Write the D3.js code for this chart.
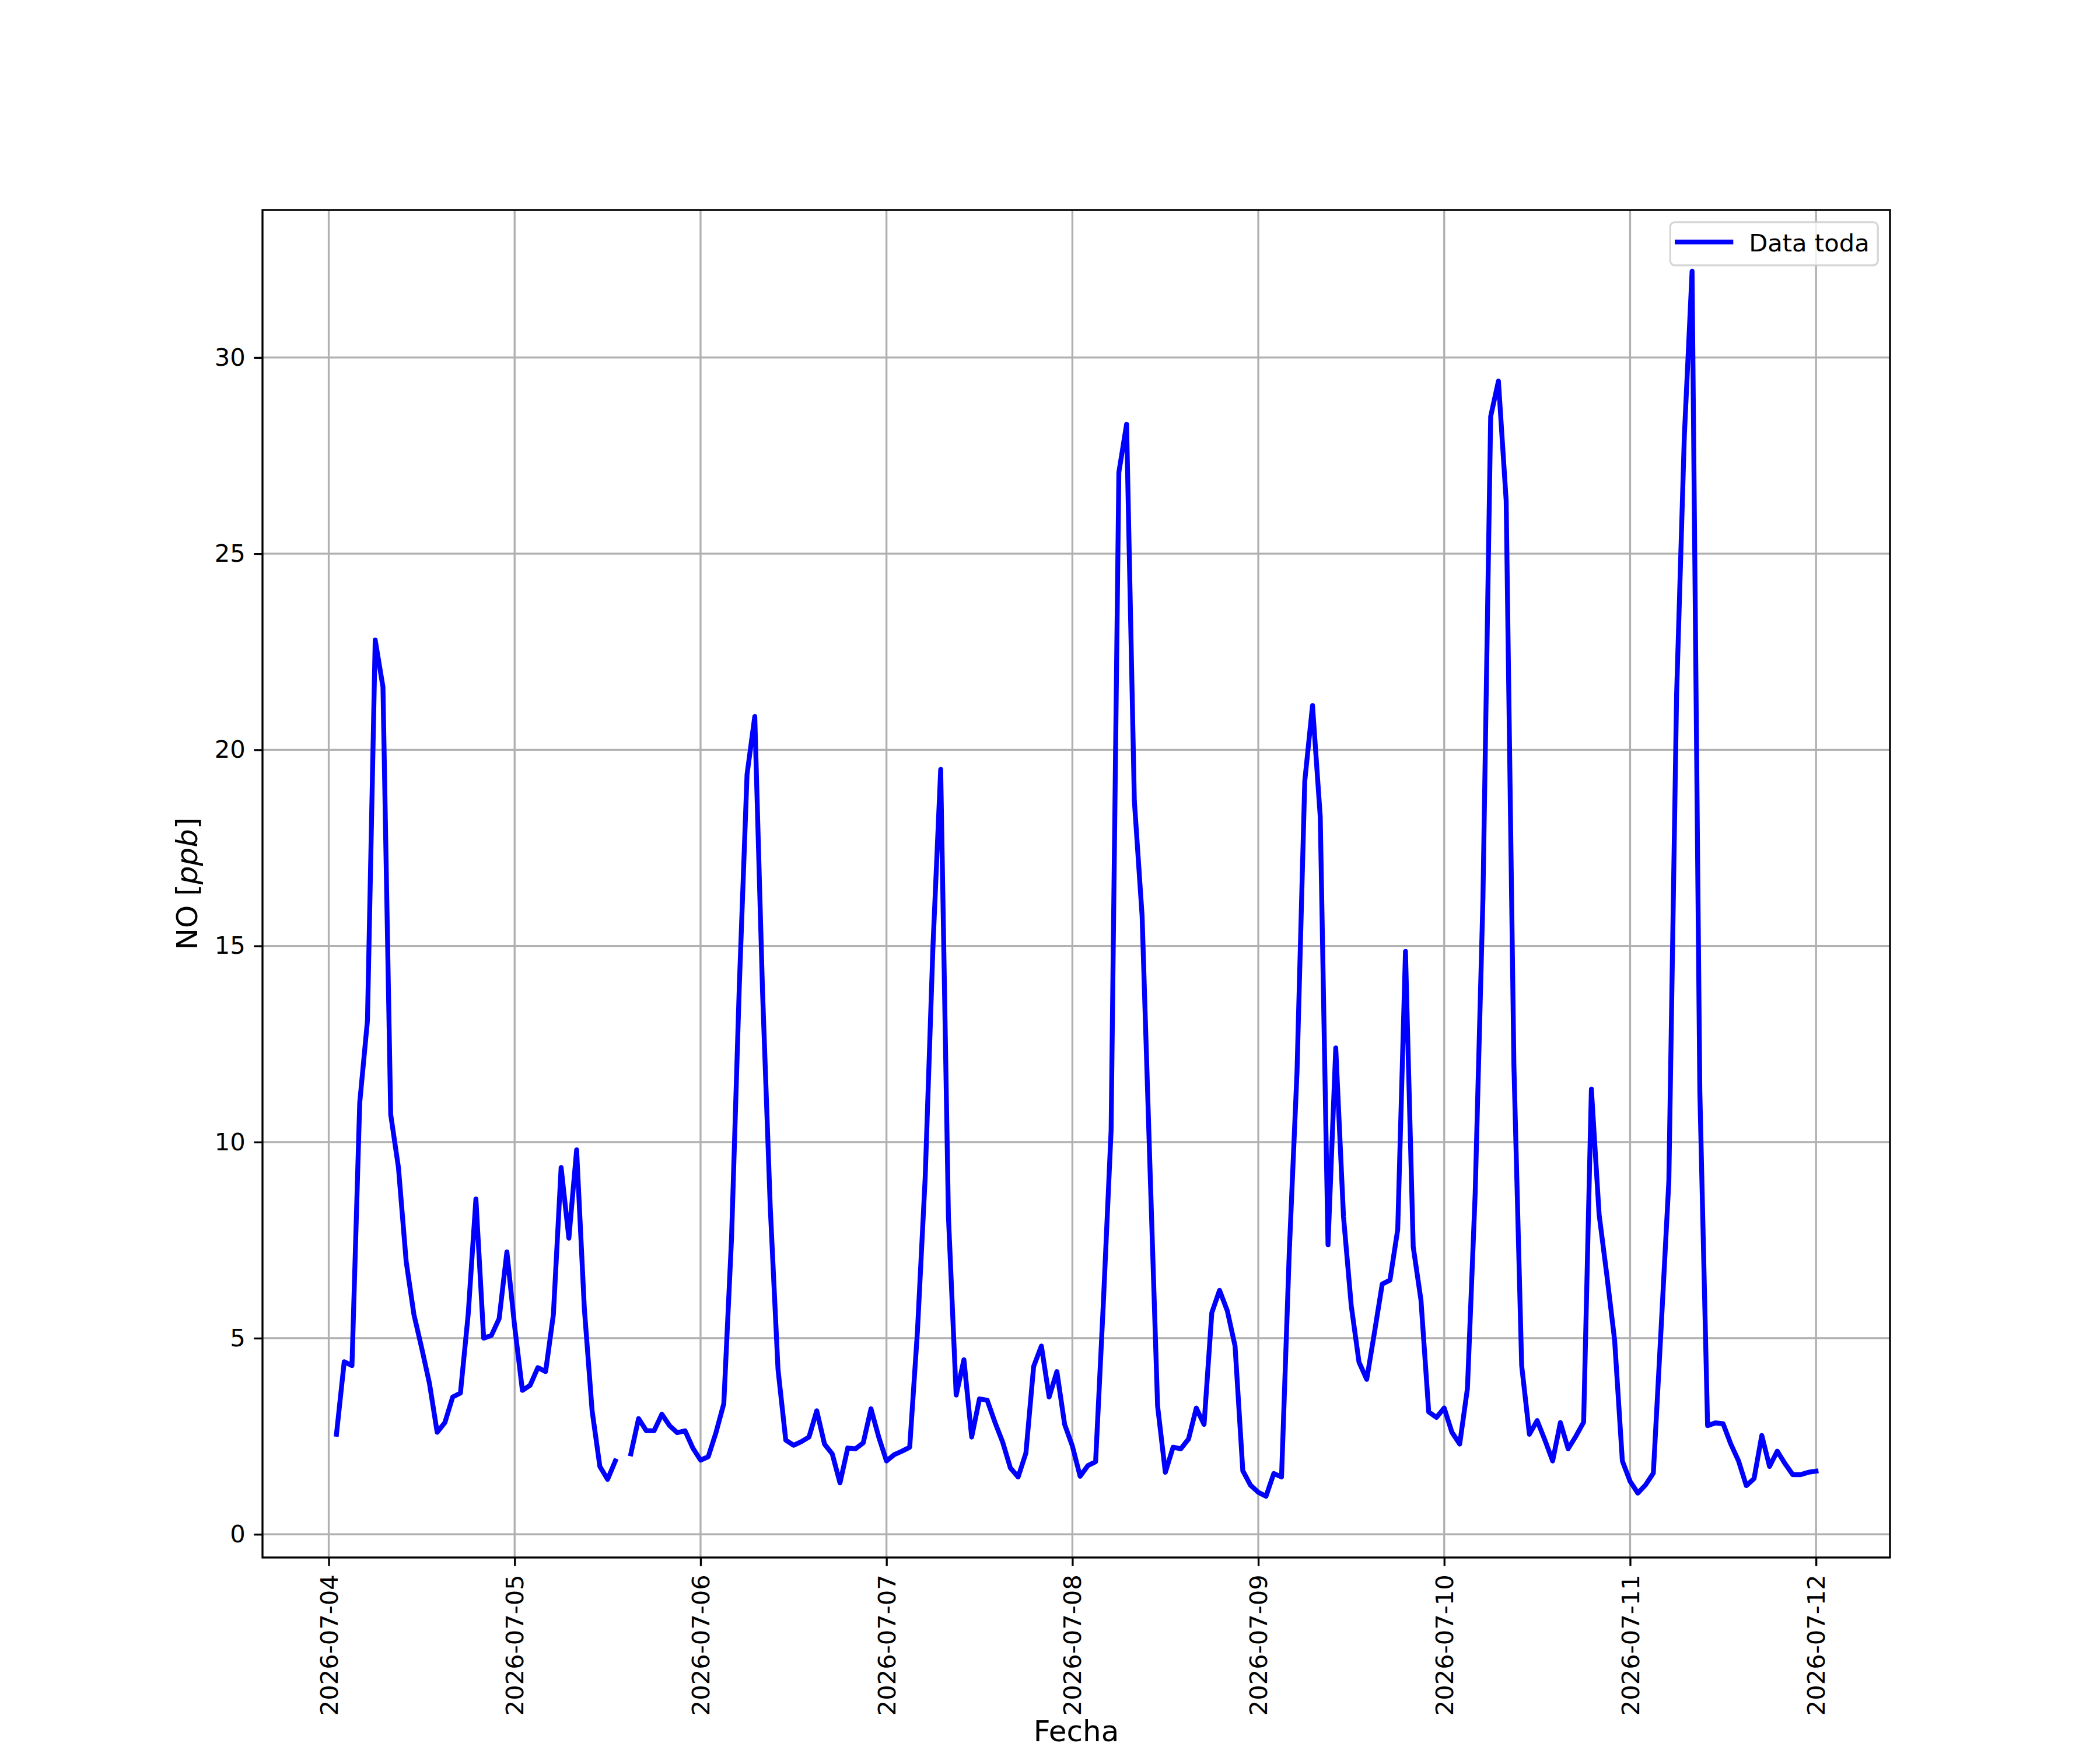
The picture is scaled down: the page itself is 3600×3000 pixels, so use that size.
<!DOCTYPE html>
<html>
<head>
<meta charset="utf-8">
<script src="https://cdn.jsdelivr.net/npm/d3@7"></script>
<style>
  body { margin: 0; background: #ffffff; }
  text { font-family: "DejaVu Sans", sans-serif; fill: #000000; }
</style>
</head>
<body>
<div id="vis"></div>
<script>
// hourly NO values, one array per day (index = hour of the day, null = no data)
const NO_0704 = [null, 2.55, 4.4, 4.3, 11.0, 13.1, 22.8, 21.6, 10.7, 9.35, 6.95, 5.6,
                 4.75, 3.85, 2.6, 2.85, 3.5, 3.6, 5.6, 8.55, 5.0, 5.07, 5.5, 7.2];
const NO_0705 = [5.3, 3.67, 3.8, 4.25, 4.15, 5.6, 9.35, 7.55, 9.8, 5.75, 3.15, 1.73,
                 1.4, 1.87, null, 2.05, 2.95, 2.64, 2.64, 3.06, 2.77, 2.59, 2.64, 2.2];
const NO_0706 = [1.89, 1.98, 2.6, 3.33, 7.55, 13.96, 19.37, 20.85, 13.85, 8.33, 4.2, 2.4,
                 2.27, 2.36, 2.48, 3.15, 2.3, 2.05, 1.31, 2.2, 2.18, 2.33, 3.2, 2.48];
const NO_0707 = [1.87, 2.03, 2.12, 2.22, 5.18, 9.1, 14.98, 19.5, 8.1, 3.55, 4.45, 2.48,
                 3.45, 3.42, 2.86, 2.35, 1.69, 1.46, 2.07, 4.28, 4.8, 3.5, 4.15, 2.8];
const NO_0708 = [2.25, 1.48, 1.75, 1.85, 5.9, 10.3, 27.07, 28.3, 18.7, 15.77, 9.46, 3.27,
                 1.58, 2.22, 2.18, 2.43, 3.22, 2.8, 5.65, 6.22, 5.7, 4.8, 1.62, 1.25];
const NO_0709 = [1.07, 0.97, 1.55, 1.46, 7.2, 11.8, 19.2, 21.13, 18.29, 7.38, 12.4, 8.1,
                 5.83, 4.39, 3.95, 5.15, 6.38, 6.48, 7.77, 14.86, 7.33, 5.97, 3.12, 2.98];
const NO_0710 = [3.22, 2.6, 2.3, 3.72, 8.7, 16.2, 28.5, 29.4, 26.35, 11.94, 4.3, 2.55,
                 2.9, 2.4, 1.87, 2.85, 2.18, 2.5, 2.86, 11.35, 8.15, 6.6, 4.95, 1.87];
const NO_0711 = [1.35, 1.05, 1.26, 1.56, 5.25, 9.0, 21.4, 28.0, 32.2, 11.3, 2.77, 2.84,
                 2.82, 2.3, 1.87, 1.24, 1.42, 2.52, 1.73, 2.12, 1.8, 1.52, 1.52, 1.58];
const NO_0712 = [1.61];

const DAYS = [NO_0704, NO_0705, NO_0706, NO_0707, NO_0708, NO_0709, NO_0710, NO_0711, NO_0712];
const START_DAY = Date.UTC(2026, 6, 4);
const Y_TICKS = [0, 5, 10, 15, 20, 25, 30];
const SERIES_LABEL = "Data toda";

const FRAME_WIDTH = 3600;
const FRAME_HEIGHT = 3000;
const MARGINS = {left: 450, right: 360, top: 360, bottom: 330};
const VIS_WIDTH = FRAME_WIDTH - MARGINS.left - MARGINS.right;
const VIS_HEIGHT = FRAME_HEIGHT - MARGINS.top - MARGINS.bottom;

const PT = 300 / 72;
const TICK_FONT = 10 * PT;
const LABEL_FONT = 12 * PT;

// build the hourly series
const data = [];
DAYS.forEach((arr, d) => {
    arr.forEach((v, h) => {
        data.push({date: new Date(START_DAY + (d * 24 + h) * 3600e3), value: v});
    });
});
// drop the leading hour with no data
while (data.length && data[0].value === null) data.shift();
const valid = data.filter((d) => d.value !== null);

const FRAME = d3.select("#vis")
                .append("svg")
                    .attr("width", FRAME_WIDTH)
                    .attr("height", FRAME_HEIGHT)
                    .style("display", "block");

FRAME.append("rect")
    .attr("width", FRAME_WIDTH)
    .attr("height", FRAME_HEIGHT)
    .attr("fill", "#ffffff");

// matplotlib style 5% margins
const X_EXT = d3.extent(valid, (d) => d.date.getTime());
const X_PAD = (X_EXT[1] - X_EXT[0]) * 0.05;
const Y_EXT = d3.extent(valid, (d) => d.value);
const Y_PAD = (Y_EXT[1] - Y_EXT[0]) * 0.05;

const X_SCALE = d3.scaleUtc()
    .domain([new Date(X_EXT[0] - X_PAD), new Date(X_EXT[1] + X_PAD)])
    .range([0, VIS_WIDTH]);

const Y_SCALE = d3.scaleLinear()
    .domain([Y_EXT[0] - Y_PAD, Y_EXT[1] + Y_PAD])
    .range([VIS_HEIGHT, 0]);

const PLOT = FRAME.append("g")
    .attr("transform", "translate(" + MARGINS.left + "," + MARGINS.top + ")");

const X_TICKS = d3.utcDay.range(d3.utcDay.ceil(X_SCALE.domain()[0]), X_SCALE.domain()[1]);

// grid
PLOT.append("g")
    .selectAll("line")
    .data(X_TICKS)
    .enter()
    .append("line")
        .attr("x1", (d) => X_SCALE(d))
        .attr("x2", (d) => X_SCALE(d))
        .attr("y1", 0)
        .attr("y2", VIS_HEIGHT)
        .attr("stroke", "#b0b0b0")
        .attr("stroke-width", 0.8 * PT);

PLOT.append("g")
    .selectAll("line")
    .data(Y_TICKS)
    .enter()
    .append("line")
        .attr("x1", 0)
        .attr("x2", VIS_WIDTH)
        .attr("y1", (d) => Y_SCALE(d))
        .attr("y2", (d) => Y_SCALE(d))
        .attr("stroke", "#b0b0b0")
        .attr("stroke-width", 0.8 * PT);

// the series
const LINE = d3.line()
    .defined((d) => d.value !== null)
    .x((d) => X_SCALE(d.date))
    .y((d) => Y_SCALE(d.value));

PLOT.append("path")
    .datum(data)
    .attr("d", LINE)
    .attr("fill", "none")
    .attr("stroke", "#0000ff")
    .attr("stroke-width", 2 * PT)
    .attr("stroke-linejoin", "round")
    .attr("stroke-linecap", "square");

// x axis
const xAxis = PLOT.append("g")
    .attr("transform", "translate(0," + VIS_HEIGHT + ")")
    .call(d3.axisBottom(X_SCALE)
        .tickValues(X_TICKS)
        .tickFormat(d3.utcFormat("%Y-%m-%d"))
        .tickSize(3.5 * PT)
        .tickPadding(3.5 * PT));
xAxis.select(".domain").remove();
xAxis.selectAll(".tick line").attr("stroke", "#000").attr("stroke-width", 0.8 * PT);
xAxis.selectAll(".tick text")
    .attr("font-size", TICK_FONT)
    .attr("font-family", "DejaVu Sans")
    .attr("fill", "#000")
    .attr("text-anchor", "end")
    .attr("x", 0)
    .attr("y", 0)
    .attr("dy", "0.35em")
    .attr("transform", "translate(0," + (7 * PT) + ") rotate(-90)");

// y axis
const yAxis = PLOT.append("g")
    .call(d3.axisLeft(Y_SCALE)
        .tickValues(Y_TICKS)
        .tickFormat(d3.format("d"))
        .tickSize(3.5 * PT)
        .tickPadding(3.5 * PT));
yAxis.select(".domain").remove();
yAxis.selectAll(".tick line").attr("stroke", "#000").attr("stroke-width", 0.8 * PT);
yAxis.selectAll(".tick text")
    .attr("font-size", TICK_FONT)
    .attr("font-family", "DejaVu Sans")
    .attr("fill", "#000");

// frame
PLOT.append("rect")
    .attr("width", VIS_WIDTH)
    .attr("height", VIS_HEIGHT)
    .attr("fill", "none")
    .attr("stroke", "#000")
    .attr("stroke-width", 0.8 * PT);

// axis labels
FRAME.append("text")
    .attr("x", MARGINS.left + VIS_WIDTH / 2)
    .attr("y", 2985)
    .attr("text-anchor", "middle")
    .attr("font-size", LABEL_FONT)
    .text("Fecha");

const yLabel = FRAME.append("text")
    .attr("transform", "translate(338," + (MARGINS.top + VIS_HEIGHT / 2) + ") rotate(-90)")
    .attr("text-anchor", "middle")
    .attr("font-size", LABEL_FONT);
yLabel.append("tspan").text("NO [");
yLabel.append("tspan").attr("font-style", "italic").text("ppb");
yLabel.append("tspan").text("]");

// legend
const LEGEND = PLOT.append("g")
    .attr("transform", "translate(" + (VIS_WIDTH - 0.5 * TICK_FONT) + "," + (0.5 * TICK_FONT) + ")");
LEGEND.append("rect")
    .attr("x", -356)
    .attr("y", 0)
    .attr("width", 356)
    .attr("height", 74)
    .attr("rx", 8)
    .attr("fill", "#ffffff")
    .attr("fill-opacity", 0.8)
    .attr("stroke", "#cccccc")
    .attr("stroke-opacity", 0.8)
    .attr("stroke-width", 0.8 * PT);
LEGEND.append("line")
    .attr("x1", -344)
    .attr("x2", -252)
    .attr("y1", 34)
    .attr("y2", 34)
    .attr("stroke", "#0000ff")
    .attr("stroke-width", 2 * PT)
    .attr("stroke-linecap", "square");
LEGEND.append("text")
    .attr("x", -221)
    .attr("y", 50)
    .attr("font-size", TICK_FONT)
    .text(SERIES_LABEL);
</script>
</body>
</html>
